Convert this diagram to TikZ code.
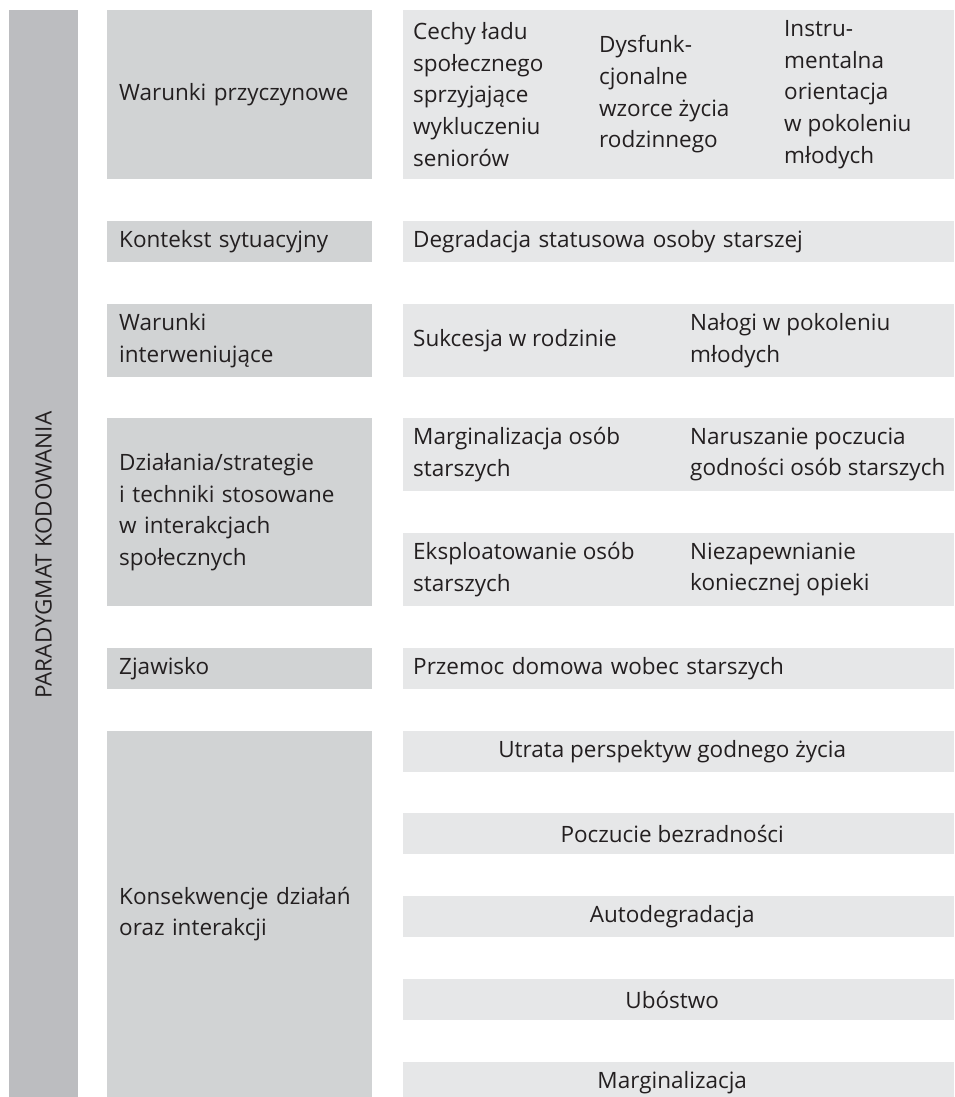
\documentclass[tikz,border=0pt]{standalone}
\usepackage{fontspec}
\setmainfont{Open Sans}
\usetikzlibrary{positioning}
\definecolor{bandgray}{HTML}{BCBDC0}
\definecolor{catgray}{HTML}{D1D3D4}
\definecolor{itemgray}{HTML}{E6E7E8}
\definecolor{ink}{HTML}{231F20}
\newcommand\cellfont{\fontsize{22.5}{31.7}\selectfont}
\tikzset{
  band/.style={
    fill=bandgray,
    anchor=north west,
    minimum width=69pt,
    minimum height=1090pt,
    inner sep=0pt
  },
  category/.style={
    fill=catgray,
    anchor=north west,
    minimum width=265pt,
    text width=241pt,
    inner xsep=12pt,
    inner ysep=0pt,
    align=left,
    font=\cellfont,
    text=ink
  },
  item/.style={
    fill=itemgray,
    anchor=north west,
    minimum width=551pt,
    text width=531pt,
    inner xsep=10pt,
    inner ysep=0pt,
    align=left,
    font=\cellfont,
    text=ink
  },
  entry/.style={
    anchor=west,
    align=left,
    inner sep=0pt,
    font=\cellfont,
    text=ink
  },
  centered/.style={entry, anchor=center, align=center}
}

\begin{document}
\begin{tikzpicture}[x=1pt, y=-1pt]
  \clip (0,0) rectangle (954,1097);

  % side band
  \node[band] (paradygmat) at (9,10) {};
  \node[font=\cellfont, text=ink, rotate=90] at (paradygmat.center)
    {PARADYGMAT KODOWANIA};

  % warunki przyczynowe
  \node[category, minimum height=169pt] (przyczynowe) at (107,10)
    {Warunki przyczynowe};
  \node[item, minimum height=169pt] (przyczynowe-box) at (403,10) {};
  \node[entry] (cechy) at (413,94.5)
    {Cechy ładu\\społecznego\\sprzyjające\\wykluczeniu\\seniorów};
  \node[entry] (dysfunkcje) at (599,94.5)
    {Dysfunk-\\cjonalne\\wzorce życia\\rodzinnego};
  \node[entry] (instrumentalna) at (784,94.5)
    {Instru-\\mentalna\\orientacja\\w pokoleniu\\młodych};

  % kontekst
  \node[category, minimum height=41pt] (kontekst) at (107,221)
    {Kontekst sytuacyjny};
  \node[item, minimum height=41pt] (degradacja) at (403,221)
    {Degradacja statusowa osoby starszej};

  % warunki interweniujace
  \node[category, minimum height=73pt] (interweniujace) at (107,304)
    {Warunki\\interweniujące};
  \node[item, minimum height=73pt] (interweniujace-box) at (403,304) {};
  \node[entry] (sukcesja) at (413,340.5) {Sukcesja w rodzinie};
  \node[entry] (nalogi) at (690,340.5) {Nałogi w pokoleniu\\młodych};

  % dzialania
  \node[category, minimum height=188pt] (dzialania) at (107,418)
    {Działania/strategie\\i techniki stosowane\\w interakcjach\\społecznych};
  \node[item, minimum height=73pt] (dzialania-box-a) at (403,418) {};
  \node[entry] (marginalizacja-osob) at (413,454.5)
    {Marginalizacja osób\\starszych};
  \node[entry] (naruszanie) at (690,454.5)
    {Naruszanie poczucia\\godności osób starszych};
  \node[item, minimum height=73pt] (dzialania-box-b) at (403,533) {};
  \node[entry] (eksploatowanie) at (413,569.5)
    {Eksploatowanie osób\\starszych};
  \node[entry] (niezapewnianie) at (690,569.5)
    {Niezapewnianie\\koniecznej opieki};

  % zjawisko
  \node[category, minimum height=41pt] (zjawisko) at (107,648)
    {Zjawisko};
  \node[item, minimum height=41pt] (przemoc) at (403,648)
    {Przemoc domowa wobec starszych};

  % konsekwencje
  \node[category, minimum height=366pt] (konsekwencje) at (107,731)
    {Konsekwencje działań\\oraz interakcji};
  \foreach \y/\name/\txt in {
      731/utrata/Utrata perspektyw godnego życia,
      813/bezradnosc/Poczucie bezradności,
      896/autodegradacja/Autodegradacja,
      979/ubostwo/Ubóstwo,
      1062/marginalizacja/Marginalizacja} {
    \node[item, minimum height=41pt] (\name-box) at (403,\y) {};
    \node[centered] (\name) at ([xshift=-6.5pt]\name-box.center) {\txt};
  }
\end{tikzpicture}
\end{document}
